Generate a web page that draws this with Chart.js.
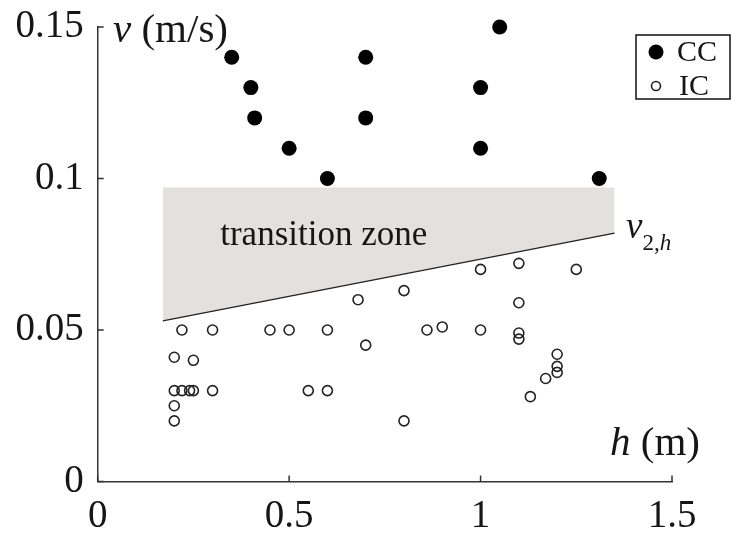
<!DOCTYPE html>
<html lang="en">
<head>
<meta charset="UTF-8">
<title>Flow regime map</title>
<style>
  body { margin: 0; background: #fff; }
  #chart { display: block; }
</style>
</head>
<body>
<canvas id="chart" width="732" height="533"></canvas>
<script src="https://cdn.jsdelivr.net/npm/chart.js@4/dist/chart.umd.min.js"></script>
<script>
const xTicks = [0, 0.5, 1, 1.5];
const yTicks = [0, 0.05, 0.1, 0.15];

// CC runs (filled dots)
const ccH = [0.35, 0.4, 0.41, 0.5, 0.6, 0.7, 0.7, 1.0, 1.0, 1.05, 1.31];
const ccV = [0.14, 0.13, 0.12, 0.11, 0.1, 0.14, 0.12, 0.13, 0.11, 0.15, 0.1];

// IC runs (open circles)
const icH = [0.2, 0.2, 0.2, 0.2, 0.22, 0.22, 0.24, 0.25, 0.25, 0.3, 0.3, 0.45, 0.5, 0.55, 0.6, 0.6,
             0.68, 0.7, 0.8, 0.8, 0.86, 0.9, 1.0, 1.0, 1.1, 1.1, 1.1, 1.1, 1.13, 1.17, 1.2, 1.2, 1.2, 1.25];
const icV = [0.041, 0.03, 0.025, 0.02, 0.05, 0.03, 0.03, 0.04, 0.03, 0.05, 0.03, 0.05, 0.05, 0.03, 0.05, 0.03,
             0.06, 0.045, 0.063, 0.02, 0.05, 0.051, 0.07, 0.05, 0.072, 0.059, 0.049, 0.047, 0.028, 0.034, 0.042, 0.038, 0.036, 0.07];

// transition zone: between v2,h line and a flat upper edge
const zoneH = [0.17, 1.35];
const v2h = [0.053, 0.082];
const zoneTop = [0.097, 0.097];

const SERIF = '"Liberation Serif", "Times New Roman", serif';
const INK = '#161616';

const pts = (xs, ys) => xs.map((x, i) => ({ x: x, y: ys[i] }));

function drawRuns(ctx, x, y, runs) {
  for (const r of runs) {
    ctx.font = r.font;
    ctx.fillText(r.text, x, y + (r.dy || 0));
    x += ctx.measureText(r.text).width;
  }
}

// inward tick marks, axis titles, zone labels and boxed legend
const extras = {
  id: 'extras',
  afterDatasetsDraw(chart) {
    const ctx = chart.ctx;
    const xs = chart.scales.x, ys = chart.scales.y;
    const area = chart.chartArea;
    ctx.save();
    ctx.strokeStyle = '#333';
    ctx.lineWidth = 1.5;
    ctx.beginPath();
    yTicks.forEach(v => {
      const py = ys.getPixelForValue(v);
      ctx.moveTo(area.left, py);
      ctx.lineTo(area.left + 6, py);
    });
    xTicks.forEach(v => {
      const px = xs.getPixelForValue(v);
      ctx.moveTo(px, area.bottom);
      ctx.lineTo(px, area.bottom - 6);
    });
    ctx.stroke();

    ctx.fillStyle = INK;
    ctx.textBaseline = 'alphabetic';
    ctx.textAlign = 'left';
    drawRuns(ctx, 113, 42, [
      { font: 'italic 41px ' + SERIF, text: 'v' },
      { font: '41px ' + SERIF, text: ' (m/s)' }
    ]);
    drawRuns(ctx, 610, 455, [
      { font: 'italic 41px ' + SERIF, text: 'h' },
      { font: '41px ' + SERIF, text: ' (m)' }
    ]);

    ctx.font = '35px ' + SERIF;
    ctx.fillText('transition zone', xs.getPixelForValue(0.32), ys.getPixelForValue(0.078));

    drawRuns(ctx, xs.getPixelForValue(1.38), ys.getPixelForValue(0.0805), [
      { font: 'italic 37px ' + SERIF, text: 'v' },
      { font: '23px ' + SERIF, text: '2,', dy: 12 },
      { font: 'italic 23px ' + SERIF, text: 'h', dy: 12 }
    ]);

    // legend
    ctx.strokeStyle = '#111';
    ctx.lineWidth = 1.5;
    ctx.strokeRect(636, 35, 94, 64);
    const cc = chart.data.datasets[0], ic = chart.data.datasets[1];
    ctx.fillStyle = cc.backgroundColor;
    ctx.beginPath();
    ctx.arc(656, 52, cc.pointRadius, 0, Math.PI * 2);
    ctx.fill();
    ctx.strokeStyle = ic.borderColor;
    ctx.lineWidth = ic.borderWidth;
    ctx.beginPath();
    ctx.arc(656, 86, 4.5, 0, Math.PI * 2);
    ctx.stroke();
    ctx.fillStyle = INK;
    ctx.font = '30px ' + SERIF;
    ctx.textBaseline = 'middle';
    ctx.fillText(cc.label, 677, 53);
    ctx.fillText(ic.label, 679, 87);
    ctx.restore();
  }
};

new Chart(document.getElementById('chart'), {
  type: 'scatter',
  data: {
    datasets: [
      {
        label: 'CC',
        data: pts(ccH, ccV),
        backgroundColor: '#000',
        borderWidth: 0,
        pointRadius: 7.5,
        clip: false
      },
      {
        label: 'IC',
        data: pts(icH, icV),
        backgroundColor: 'rgba(0,0,0,0)',
        borderColor: '#222',
        borderWidth: 1.6,
        pointRadius: 5,
        clip: false
      },
      {
        label: 'v2,h',
        type: 'line',
        data: pts(zoneH, v2h),
        borderColor: '#222',
        borderWidth: 1.2,
        pointRadius: 0,
        fill: false
      },
      {
        label: 'zone',
        type: 'line',
        data: pts(zoneH, zoneTop),
        borderWidth: 0,
        borderColor: 'rgba(0,0,0,0)',
        backgroundColor: '#e3e0e0',
        pointRadius: 0,
        fill: '-1'
      }
    ]
  },
  options: {
    responsive: false,
    animation: false,
    layout: { padding: { top: 27, right: 60, left: 0, bottom: 0 } },
    plugins: {
      legend: { display: false },
      tooltip: { enabled: false }
    },
    scales: {
      x: {
        type: 'linear',
        min: 0,
        max: 1.5,
        afterBuildTicks: s => { s.ticks = xTicks.map(v => ({ value: v })); },
        afterFit: s => { s.height = 51.5; s.paddingLeft = 0; s.paddingRight = 0; },
        grid: { display: false, drawTicks: false },
        border: { display: true, color: '#333', width: 1.5 },
        ticks: {
          padding: 12,
          color: INK,
          font: { family: SERIF, size: 39 },
          callback: v => String(v)
        }
      },
      y: {
        type: 'linear',
        min: 0,
        max: 0.15,
        afterBuildTicks: s => { s.ticks = yTicks.map(v => ({ value: v })); },
        afterFit: s => { s.width = 97.7; s.paddingTop = 0; s.paddingBottom = 0; },
        grid: { display: false, drawTicks: false },
        border: { display: true, color: '#333', width: 1.5 },
        ticks: {
          padding: 14,
          color: INK,
          font: { family: SERIF, size: 39 },
          callback: v => String(v)
        }
      }
    }
  },
  plugins: [extras]
});
</script>
</body>
</html>
